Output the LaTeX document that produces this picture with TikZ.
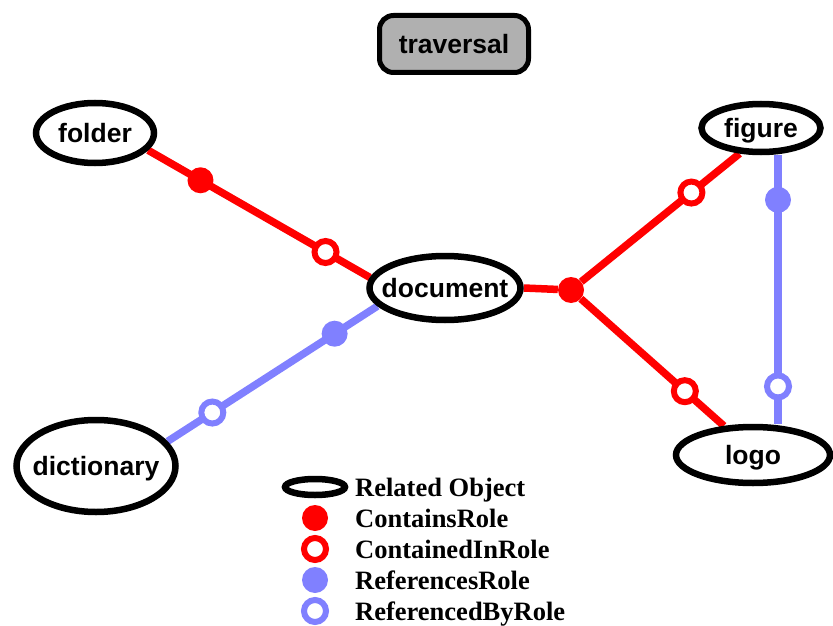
\documentclass[tikz,border=0pt]{standalone}
\usepackage{fontspec}
\setmainfont{Liberation Serif}
\setsansfont{Liberation Sans}
\usetikzlibrary{shapes.geometric,backgrounds}
\definecolor{refblue}{RGB}{128,128,255}
\definecolor{travgray}{RGB}{176,176,176}
\begin{document}
\begin{tikzpicture}[x=1pt,y=-1pt,
  obj/.style={ellipse,draw,fill=white,line width=6.5pt,inner ysep=0pt,inner xsep=-40pt,text depth=0pt,
    font=\sffamily\bfseries\fontsize{26.5}{30}\selectfont},
  contains/.style={draw=red,line width=7.5pt},
  refs/.style={draw=refblue,line width=7.5pt},
  fulldot/.style={circle,fill=#1,minimum size=26pt,inner sep=0pt},
  ringdot/.style={circle,draw=#1,fill=white,line width=6pt,minimum size=22pt,inner sep=0pt},
  legtext/.style={anchor=base west,inner sep=0pt,font=\bfseries\fontsize{26.5}{30}\selectfont}]
\useasboundingbox (0,0) rectangle (833,626);
\node[draw,fill=travgray,line width=5pt,rounded corners=14pt,minimum width=149pt,minimum height=57pt,
  text depth=0pt,font=\sffamily\bfseries\fontsize{26.5}{30}\selectfont] (traversal) at (454,44) {traversal};
\node[obj,minimum width=151pt,minimum height=64pt] (document) at (445,288) {document};
\node[obj,minimum width=118pt,minimum height=60pt] (folder) at (95,133) {folder};
\node[obj,minimum width=119pt,minimum height=48pt] (figure) at (761,128) {figure};
\node[obj,minimum width=154pt,minimum height=56pt] (logo) at (753,455) {logo};
\node[obj,minimum width=159pt,minimum height=92pt] (dictionary) at (96,466) {dictionary};
\node[fulldot=red] (hub) at (571,290) {};
\begin{scope}[on background layer]
\draw[contains] (folder.-18) -- node[pos=.236,fulldot=red]{} node[pos=.8,ringdot=red]{} (document.172);
\draw[refs] (dictionary.19) -- node[pos=.213,ringdot=refblue]{} node[pos=.796,fulldot=refblue]{} (document.195);
\draw[contains] (document.east) -- (hub);
\draw[contains] (hub) -- node[pos=.696,ringdot=red]{} (figure.230);
\draw[contains] (hub) -- node[pos=.727,ringdot=red]{} (logo.135);
\draw[refs] ([xshift=17pt]figure.south) -- node[pos=.166,fulldot=refblue]{} node[pos=.861,ringdot=refblue]{} ([xshift=25pt]logo.north);
\end{scope}
% legend
\node[ellipse,draw,line width=6.5pt,minimum width=60pt,minimum height=16pt,inner sep=0pt] (legobj) at (315,487) {};
\node[legtext] (legobjtext) at (355,496) {Related Object};
\node[fulldot=red] (legcont) at (315,518) {};
\node[legtext] (legconttext) at (355,527) {ContainsRole};
\node[ringdot=red] (legcontin) at (315,549) {};
\node[legtext] (legcontintext) at (355,558) {ContainedInRole};
\node[fulldot=refblue] (legref) at (315,580) {};
\node[legtext] (legreftext) at (355,589) {ReferencesRole};
\node[ringdot=refblue] (legrefby) at (315,611) {};
\node[legtext] (legrefbytext) at (355,620) {ReferencedByRole};
\end{tikzpicture}
\end{document}
